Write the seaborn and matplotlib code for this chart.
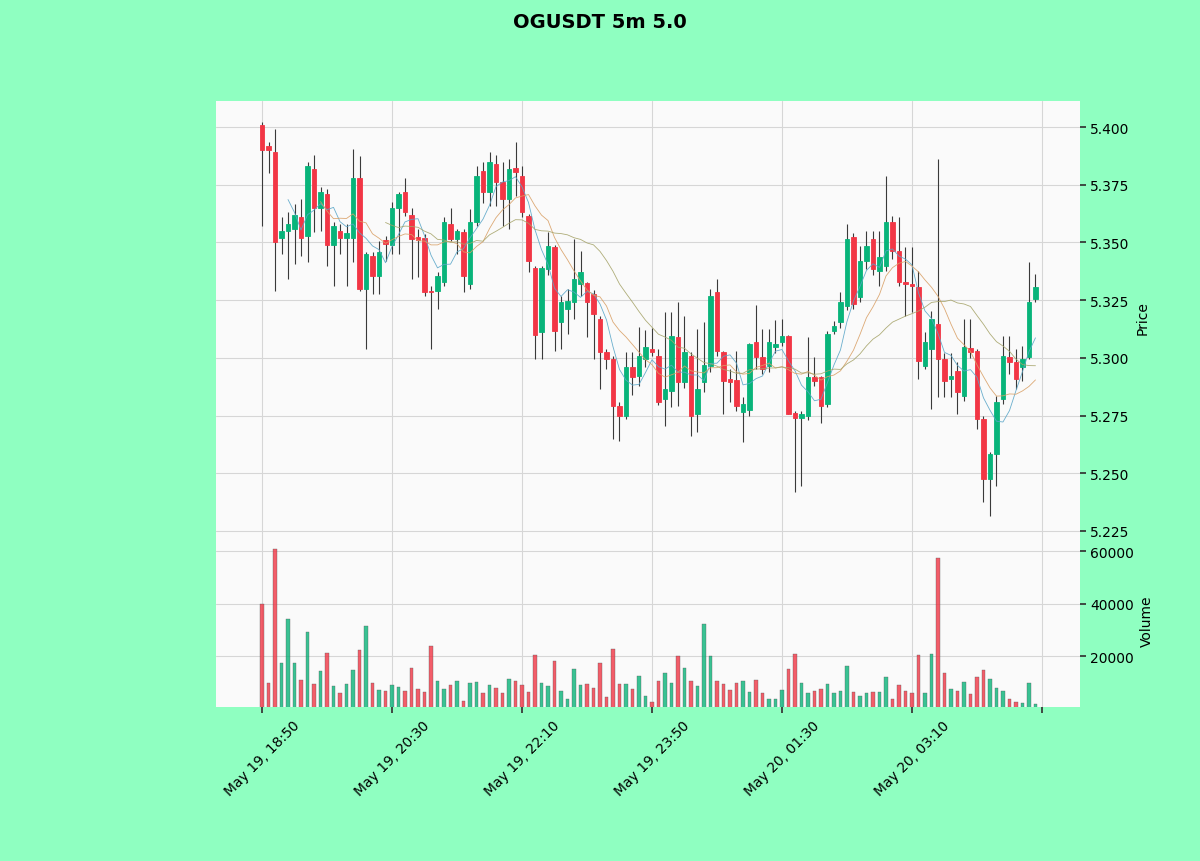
import numpy as np
import pandas as pd
import matplotlib
matplotlib.use("Agg")
import matplotlib.pyplot as plt
import seaborn as sns

title_text = "OGUSDT 5m 5.0"
start_time = "2024-05-19 18:50"
bar_freq = "5min"

opens = [5.401, 5.392, 5.389, 5.352, 5.355, 5.356, 5.361, 5.353, 5.382, 5.365,
         5.371, 5.349, 5.355, 5.352, 5.352, 5.378, 5.330, 5.344, 5.3355, 5.351,
         5.349, 5.365, 5.372, 5.362, 5.3525, 5.352, 5.329, 5.329, 5.333, 5.358,
         5.3515, 5.3545, 5.332, 5.359, 5.381, 5.372, 5.384, 5.376, 5.369, 5.3822,
         5.379, 5.3615, 5.339, 5.311, 5.3385, 5.348, 5.3155, 5.3212, 5.3242, 5.332,
         5.3325, 5.3277, 5.317, 5.3025, 5.2995, 5.279, 5.275, 5.296, 5.292, 5.2995,
         5.304, 5.301, 5.282, 5.2856, 5.309, 5.2895, 5.301, 5.2757, 5.2895, 5.2965,
         5.3285, 5.3025, 5.2908, 5.2905, 5.2765, 5.2775, 5.307, 5.3004, 5.2965, 5.3047,
         5.307, 5.3095, 5.276, 5.274, 5.2748, 5.2917, 5.2917, 5.280, 5.3116, 5.3155,
         5.3225, 5.3524, 5.3264, 5.342, 5.3515, 5.3376, 5.340, 5.3588, 5.3463, 5.333,
         5.332, 5.3307, 5.2965, 5.3038, 5.3147, 5.2995, 5.2908, 5.2943, 5.2835, 5.3043,
         5.303, 5.2735, 5.2475, 5.2584, 5.2822, 5.3004, 5.2982, 5.296, 5.3004, 5.3255]
highs = [5.402, 5.3935, 5.399, 5.361, 5.363, 5.3666, 5.369, 5.385, 5.388, 5.374,
         5.3731, 5.3588, 5.358, 5.358, 5.3905, 5.3874, 5.3458, 5.3458, 5.3506, 5.353,
         5.3675, 5.372, 5.378, 5.365, 5.356, 5.3535, 5.331, 5.337, 5.361, 5.365,
         5.356, 5.356, 5.3645, 5.383, 5.385, 5.389, 5.388, 5.385, 5.386, 5.3935,
         5.383, 5.3623, 5.340, 5.340, 5.3545, 5.349, 5.327, 5.330, 5.3515, 5.3463,
         5.333, 5.3295, 5.318, 5.304, 5.301, 5.281, 5.3025, 5.3025, 5.3134, 5.312,
         5.313, 5.304, 5.320, 5.3198, 5.3242, 5.318, 5.3025, 5.3125, 5.3155, 5.3298,
         5.334, 5.303, 5.295, 5.303, 5.283, 5.3065, 5.323, 5.3125, 5.3125, 5.3165,
         5.317, 5.310, 5.277, 5.277, 5.309, 5.3004, 5.292, 5.3116, 5.316, 5.3285,
         5.358, 5.354, 5.3485, 5.355, 5.355, 5.355, 5.3788, 5.3615, 5.361, 5.348,
         5.348, 5.3376, 5.3112, 5.3203, 5.386, 5.302, 5.302, 5.298, 5.3168, 5.3168,
         5.3038, 5.2748, 5.2593, 5.2835, 5.3095, 5.3095, 5.3038, 5.305, 5.3415, 5.3363]
lows = [5.357, 5.380, 5.329, 5.345, 5.334, 5.3407, 5.344, 5.3415, 5.3545, 5.355,
        5.3398, 5.331, 5.345, 5.331, 5.3415, 5.329, 5.304, 5.3277, 5.3277, 5.342,
        5.345, 5.345, 5.3614, 5.334, 5.335, 5.327, 5.304, 5.321, 5.331, 5.3506,
        5.345, 5.3285, 5.330, 5.357, 5.367, 5.366, 5.366, 5.357, 5.356, 5.370,
        5.361, 5.337, 5.2995, 5.2995, 5.336, 5.303, 5.304, 5.3103, 5.317, 5.3268,
        5.309, 5.2995, 5.2865, 5.295, 5.265, 5.264, 5.2735, 5.284, 5.288, 5.296,
        5.301, 5.2795, 5.2705, 5.2787, 5.279, 5.287, 5.266, 5.268, 5.285, 5.294,
        5.301, 5.2757, 5.281, 5.277, 5.2636, 5.2748, 5.295, 5.293, 5.294, 5.302,
        5.305, 5.2757, 5.242, 5.2445, 5.273, 5.288, 5.272, 5.2787, 5.3103, 5.313,
        5.3208, 5.321, 5.3242, 5.3385, 5.336, 5.331, 5.3376, 5.343, 5.331, 5.318,
        5.320, 5.291, 5.295, 5.278, 5.283, 5.283, 5.283, 5.2757, 5.2815, 5.300,
        5.2692, 5.2376, 5.2315, 5.2445, 5.280, 5.293, 5.2865, 5.290, 5.2995, 5.3242]
closes = [5.390, 5.390, 5.350, 5.355, 5.358, 5.362, 5.352, 5.383, 5.365, 5.372,
          5.349, 5.357, 5.352, 5.354, 5.378, 5.330, 5.345, 5.3355, 5.346, 5.3495,
          5.365, 5.371, 5.363, 5.3515, 5.351, 5.3285, 5.3285, 5.3355, 5.359, 5.3515,
          5.355, 5.3355, 5.359, 5.379, 5.372, 5.385, 5.376, 5.369, 5.382, 5.3805,
          5.363, 5.342, 5.310, 5.339, 5.3485, 5.3115, 5.324, 5.3246, 5.334, 5.337,
          5.3242, 5.319, 5.3025, 5.2995, 5.279, 5.2748, 5.296, 5.2917, 5.301, 5.3047,
          5.3025, 5.281, 5.2865, 5.3095, 5.2895, 5.3025, 5.275, 5.2865, 5.297, 5.327,
          5.303, 5.290, 5.2895, 5.279, 5.280, 5.306, 5.3005, 5.2952, 5.3069, 5.306,
          5.3095, 5.2757, 5.274, 5.2757, 5.2917, 5.290, 5.279, 5.3103, 5.3138, 5.3242,
          5.3515, 5.3233, 5.342, 5.3485, 5.3385, 5.3437, 5.359, 5.3463, 5.333, 5.332,
          5.3311, 5.2986, 5.307, 5.3168, 5.2995, 5.290, 5.2921, 5.2852, 5.3047, 5.3025,
          5.2735, 5.2475, 5.2584, 5.2809, 5.3008, 5.2982, 5.2908, 5.2995, 5.3242, 5.3307]
volumes = [39750, 9550, 60770, 17200, 34270, 17450, 10700, 29300, 9170, 14270,
           21000, 8540, 5990, 9170, 14520, 22300, 31470, 9800, 7000, 6600,
           8900, 8150, 6600, 15500, 7500, 6250, 24000, 10450, 7260, 8800,
           10450, 2800, 9550, 10060, 6000, 8800, 7900, 5730, 11080, 10450,
           8900, 6250, 20260, 9800, 8540, 18090, 6600, 3440, 14900, 8800,
           9430, 7900, 17450, 4330, 22550, 9430, 9170, 7260, 12360, 4700,
           2400, 10450, 13380, 9800, 20000, 15540, 10450, 8540, 32100, 20000,
           10450, 9430, 6880, 9800, 10450, 6250, 10830, 6000, 3700, 3700,
           6880, 14900, 20640, 9550, 6000, 6600, 7260, 9430, 6000, 6600,
           16180, 6250, 4700, 5730, 6250, 6250, 12100, 3440, 8900, 6600,
           6000, 20260, 5730, 20900, 57600, 13630, 7500, 6600, 10190, 5600,
           11980, 14650, 11340, 7900, 6600, 3440, 2420, 2170, 9800, 1780]
ma_periods = [5, 10, 20]
ma_colors = ["#5aa6c8", "#d9a066", "#a6a46a"]

UP = "#08b47a"
DOWN = "#f23645"
FIG_BG = "#8fffc1"
AX_BG = "#fafafa"

sns.set_theme(style="whitegrid")
plt.rcParams["font.family"] = ["DejaVu Sans"]

n = len(opens)
df = pd.DataFrame({"open": opens, "high": highs, "low": lows,
                   "close": closes, "volume": volumes})
df["time"] = pd.date_range(start_time, periods=n, freq=bar_freq)
df["idx"] = np.arange(n)
up = df["close"] >= df["open"]
body_colors = np.where(up, UP, DOWN)

fig = plt.figure(figsize=(12, 8.62), dpi=100, facecolor=FIG_BG)
ax = fig.add_axes([0.18, 0.3799, 0.72, 0.5018], facecolor=AX_BG)
axv = fig.add_axes([0.18, 0.17865, 0.72, 0.20125], facecolor=AX_BG, sharex=ax)

# wicks
ax.vlines(df["idx"], df["low"], df["high"], color="#3a3a3a", linewidth=0.8, zorder=2)
# bodies
body_bottom = np.minimum(df["open"], df["close"])
body_height = np.abs(df["close"] - df["open"])
ax.bar(df["idx"], body_height, bottom=body_bottom, width=0.7,
       color=body_colors, edgecolor=body_colors, linewidth=0.6, zorder=3)

# moving averages
for p, c in zip(ma_periods, ma_colors):
    ma = df["close"].rolling(p).mean()
    sub = pd.DataFrame({"idx": df["idx"], "ma": ma}).dropna()
    sns.lineplot(data=sub, x="idx", y="ma", ax=ax, color=c, linewidth=0.6,
                 alpha=0.9, zorder=4)

# volume
axv.bar(df["idx"], df["volume"], width=0.6, color=body_colors, alpha=0.8,
        edgecolor="#555555", linewidth=0.3, zorder=3)

for a in (ax, axv):
    for s in a.spines.values():
        s.set_visible(False)
    a.grid(True, color="#d6d6d6", linewidth=0.8)
    a.yaxis.tick_right()
    a.yaxis.set_label_position("right")
    a.tick_params(axis="y", which="both", right=True, left=False, length=4,
                  color="#333333", labelsize=10, labelcolor="black")
    a.set_xlabel("")

ax.set_xlim(-7.08, 125.85)
ax.set_ylim(5.2239, 5.4113)
ax.set_yticks(np.arange(5.225, 5.4001, 0.025))
ax.set_yticklabels([f"{v:.3f}" for v in np.arange(5.225, 5.4001, 0.025)])
ax.set_ylabel("Price", fontsize=10, color="black")
ax.tick_params(axis="x", bottom=False, labelbottom=False)

vmin = 0.3 * min(volumes)
vmax = 1.1 * max(volumes)
axv.set_ylim(vmin, vmax)
axv.set_yticks([20000, 40000, 60000])
axv.set_yticklabels(["20000", "40000", "60000"])
axv.set_ylabel("Volume", fontsize=10, color="black")

tick_pos = list(range(0, n + 1, 20))
tick_labels = [df["time"].iloc[i].strftime("%b %d, %H:%M") if i < n else "" for i in tick_pos]
axv.set_xticks(tick_pos)
axv.set_xticklabels(tick_labels, rotation=45, ha="center", fontsize=10, color="black")
axv.tick_params(axis="x", bottom=True, length=4, color="#333333")

fig.suptitle(title_text, fontsize=14, fontweight="bold", y=0.985, color="black")

fig.savefig("out.png", dpi=100, facecolor=FIG_BG)
